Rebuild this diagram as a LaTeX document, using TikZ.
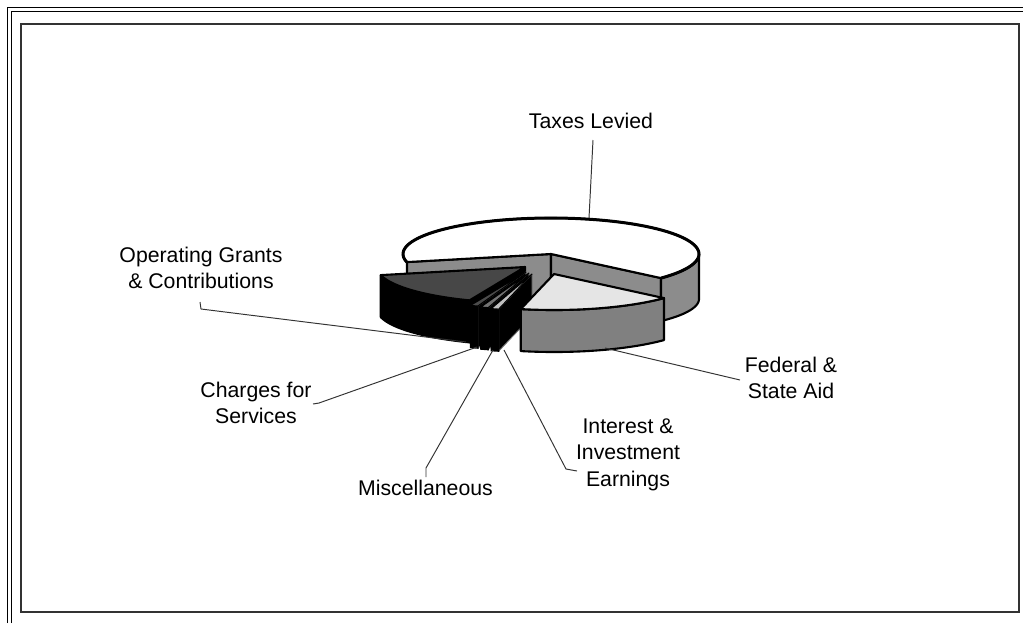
\documentclass[tikz,border=0pt]{standalone}
\usepackage{fontspec}
\setmainfont{Liberation Sans}
\usetikzlibrary{calc,positioning}

\tikzset{
  labeltext/.style={font=\fontsize{12.1pt}{15pt}\selectfont, inner sep=0pt, align=center},
  leader/.style={black!80, line width=0.55pt},
  sliceedge/.style={draw=black, line width=1.2pt, line join=round},
}

\begin{document}
\begin{tikzpicture}[x=0.02cm, y=-0.02cm]
\useasboundingbox (0,0) rectangle (1023,623);
% frame
\draw[line width=1.1pt] (7.5,623) -- (7.5,7.5) -- (1023,7.5);
\draw[line width=1.1pt] (11.5,623) -- (11.5,11.5) -- (1023,11.5);
\draw[black!80, line width=0.6pt] (21,24) rectangle (1019,612);

% taxes levied: cut faces, outer wall, top
\filldraw[sliceedge, fill=black!45] (551,254) -- (407,262) -- (407,304) -- (551,296) -- cycle;
\filldraw[sliceedge, fill=black!45] (551,254) -- (661,278) -- (661,321) -- (551,296) -- cycle;
\filldraw[sliceedge, fill=black!45] plot[domain=0:-42, samples=20] ({551+148*cos(\x)},{254-36*sin(\x)})
    -- plot[domain=-42:0, samples=20] ({551+148*cos(\x)},{299-33*sin(\x)}) -- cycle;
\filldraw[sliceedge, fill=white] (551,254) -- plot[domain=193:-42, samples=80] ({551+148*cos(\x)},{254-36*sin(\x)}) -- cycle;
\draw[line width=1.7pt] plot[domain=193:-42, samples=80] ({551+148*cos(\x)},{254-36*sin(\x)});

% operating grants (exploded)
\filldraw[sliceedge, fill=black] (525,267) -- (469.6,300.4) -- (469.6,342.4) -- (525,309) -- cycle;
\filldraw[sliceedge, fill=black] plot[domain=193:248, samples=30] ({525+148*cos(\x)},{267-36*sin(\x)})
    -- plot[domain=248:193, samples=30] ({525+148*cos(\x)},{309-36*sin(\x)}) -- cycle;
\filldraw[sliceedge, fill=black!72] (525,267) -- plot[domain=193:248, samples=30] ({525+148*cos(\x)},{267-36*sin(\x)}) -- cycle;

% charges, miscellaneous, interest
\foreach \cx/\cy/\a/\b/\tone in {526/272/248/251/70, 529/273/251/254/55, 532/274/254/257/25}{
  \filldraw[fill=black, draw=black!55, line width=0.5pt] (\cx,\cy) -- ({\cx+148*cos(\b)},{\cy-36*sin(\b)})
      -- ({\cx+148*cos(\b)},{\cy+42-36*sin(\b)}) -- (\cx,\cy+42) -- cycle;
  \filldraw[fill=black, draw=black, line width=0.8pt] plot[domain=\a:\b, samples=5] ({\cx+148*cos(\x)},{\cy-36*sin(\x)})
      -- plot[domain=\b:\a, samples=5] ({\cx+148*cos(\x)},{\cy+42-36*sin(\x)}) -- cycle;
  \filldraw[fill=black!\tone, draw=black, line width=0.6pt] (\cx,\cy) -- plot[domain=\a:\b, samples=5] ({\cx+148*cos(\x)},{\cy-36*sin(\x)}) -- cycle;
}

% federal & state aid (exploded)
\filldraw[sliceedge, fill=black!50] plot[domain=257:318, samples=30] ({554+148*cos(\x)},{274-36*sin(\x)})
    -- plot[domain=318:257, samples=30] ({554+148*cos(\x)},{316-36*sin(\x)}) -- cycle;
\filldraw[sliceedge, fill=black!10] (554,274) -- plot[domain=257:318, samples=30] ({554+148*cos(\x)},{274-36*sin(\x)}) -- cycle;

% labels
\node[labeltext, anchor=base] (taxes) at (591,128) {Taxes Levied};
\node[labeltext, anchor=north] (grants) at (201,246.5) {Operating Grants\\\& Contributions};
\node[labeltext, anchor=north] (charges) at (256,381.5) {Charges for\\Services};
\node[labeltext, anchor=base] (misc) at (425.5,495) {Miscellaneous};
\node[labeltext, anchor=north] (interest) at (628,418.5) {Interest \&\\Investment\\Earnings};
\node[labeltext, anchor=north] (federal) at (791,356.5) {Federal \&\\State Aid};

% leader lines
\coordinate (taxes-in) at (593,140);
\coordinate (taxes-end) at (589,218);
\coordinate (grants-in) at (200,302);
\coordinate (grants-end) at (466,342);
\coordinate (charges-in) at (313,404);
\coordinate (charges-end) at (477,347);
\coordinate (misc-in) at (426,477);
\coordinate (misc-end) at (493,350);
\coordinate (interest-in) at (577,471);
\coordinate (interest-end) at (504,350);
\coordinate (federal-in) at (740,380);
\coordinate (federal-end) at (605,348);
\draw[leader] (taxes-in) -- (taxes-end);
\draw[leader] (grants-in) -- ++(1,7) -- (grants-end);
\draw[leader] (charges-in) -- ++(6,-1) -- (charges-end);
\draw[leader] (misc-in) -- ++(0,-9) -- (misc-end);
\draw[leader] (interest-in) -- ++(-11,-2) -- (interest-end);
\draw[leader] (federal-in) -- (federal-end);
\end{tikzpicture}
\end{document}
